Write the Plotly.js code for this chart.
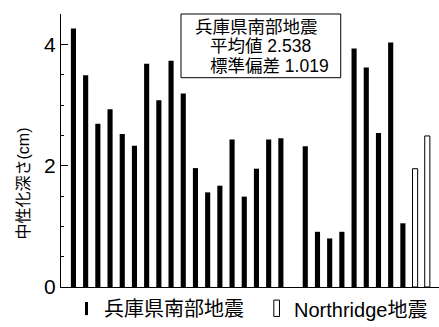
<!DOCTYPE html>
<html>
<head>
<meta charset="utf-8">
<script src="https://cdn.plot.ly/plotly-3.0.1.min.js"></script>
<style>html,body{margin:0;padding:0;background:#fff;}#chart{width:439px;height:327px;}</style>
</head>
<body>
<div id="chart"></div>
<script>
// Hyogo-ken Nanbu earthquake samples (two groups separated by a blank slot)
const hyogoCategories1 = ['H1','H2','H3','H4','H5','H6','H7','H8','H9','H10','H11','H12','H13','H14','H15','H16','H17','H18'];
const hyogoValues1 = [4.26, 3.49, 2.69, 2.93, 2.52, 2.33, 3.68, 3.08, 3.73, 3.19, 1.96, 1.56, 1.67, 2.43, 1.49, 1.95, 2.43, 2.45];
const gapCategory = ['gap'];
const hyogoCategories2 = ['H19','H20','H21','H22','H23','H24','H25','H26','H27'];
const hyogoValues2 = [2.32, 0.91, 0.80, 0.91, 3.93, 3.62, 2.54, 4.03, 1.05];
// Northridge earthquake samples
const northCategories = ['N1','N2'];
const northValues = [1.95, 2.49];
// Text
const hyogoName = '兵庫県南部地震';
const northName = 'Northridge地震';
const meanLabel = '平均値 2.538';
const sdLabel = '標準偏差 1.019';
const yTitle = '中性化深さ(cm)';
const yTickVals = [0, 2, 4];
const yTickText = ['0', '2', '4'];

const allCategories = [...hyogoCategories1, ...gapCategory, ...hyogoCategories2, ...northCategories];
const hyogoX = [...hyogoCategories1, ...gapCategory, ...hyogoCategories2];
const hyogoY = [...hyogoValues1, null, ...hyogoValues2];

const FONT = 'Liberation Sans, Arial, Noto Sans CJK JP, sans-serif';

const traces = [
  {type: 'bar', x: hyogoX, y: hyogoY, name: hyogoName, width: 0.42,
   marker: {color: '#000', line: {width: 0}}, hoverinfo: 'x+y'},
  {type: 'bar', x: northCategories, y: northValues, name: northName, width: 0.42,
   marker: {color: '#fff', line: {color: '#000', width: 1}}, hoverinfo: 'x+y'}
];

const layout = {
  width: 439, height: 327,
  margin: {l: 61, r: 0, t: 14, b: 40, pad: 0},
  paper_bgcolor: '#fff', plot_bgcolor: '#fff',
  showlegend: false,
  barmode: 'overlay',
  font: {family: FONT, color: '#000', size: 18},
  xaxis: {
    type: 'category', categoryorder: 'array', categoryarray: allCategories,
    range: [-1.02, 29.96], showticklabels: false, ticks: '',
    showline: true, linecolor: '#000', linewidth: 1, showgrid: false, zeroline: false
  },
  yaxis: {
    range: [0, 4.5], tickvals: yTickVals, ticktext: yTickText,
    ticks: 'inside', ticklen: 7, tickcolor: '#000', tickwidth: 1,
    minor: {dtick: 0.5, ticks: 'inside', ticklen: 3, tickcolor: '#000', tickwidth: 1, showgrid: false},
    showline: true, linecolor: '#000', linewidth: 1, showgrid: false, zeroline: false,
    tickfont: {family: FONT, size: 21, color: '#000'},
    title: {text: ''}
  },
  shapes: [
    {type: 'rect', xref: 'paper', yref: 'paper', x0: 0.3175, x1: 0.740, y0: 0.7667, y1: 1.0,
     line: {color: '#000', width: 1}, fillcolor: 'rgba(0,0,0,0)'},
    {type: 'rect', xref: 'paper', yref: 'paper', x0: 0.0635, x1: 0.0714, y0: -0.103, y1: -0.055,
     line: {width: 0}, fillcolor: '#000'},
    {type: 'rect', xref: 'paper', yref: 'paper', x0: 0.563, x1: 0.578, y0: -0.108, y1: -0.048,
     line: {color: '#000', width: 1}, fillcolor: '#fff'}
  ],
  annotations: [
    {xref: 'paper', yref: 'paper', x: 0.516, y: 0.9535, xanchor: 'center', yanchor: 'middle',
     text: hyogoName, showarrow: false, font: {family: FONT, size: 17.5, color: '#000'}},
    {xref: 'paper', yref: 'paper', x: 0.389, y: 0.882, xanchor: 'left', yanchor: 'middle',
     text: meanLabel, showarrow: false, font: {family: FONT, size: 17.5, color: '#000'}},
    {xref: 'paper', yref: 'paper', x: 0.389, y: 0.810, xanchor: 'left', yanchor: 'middle',
     text: sdLabel, showarrow: false, font: {family: FONT, size: 17.5, color: '#000'}},
    {xref: 'paper', yref: 'paper', x: -0.1, y: 0.38, xanchor: 'center', yanchor: 'middle',
     text: yTitle, textangle: -90, showarrow: false, font: {family: FONT, size: 16, color: '#000'}},
    {xref: 'paper', yref: 'paper', x: 0.1077, y: -0.0806, xanchor: 'left', yanchor: 'middle',
     text: hyogoName, showarrow: false, font: {family: FONT, size: 20, color: '#000'}},
    {xref: 'paper', yref: 'paper', x: 0.610, y: -0.084, xanchor: 'left', yanchor: 'middle',
     text: northName, showarrow: false, font: {family: FONT, size: 20, color: '#000'}}
  ]
};

Plotly.newPlot('chart', traces, layout, {staticPlot: true, displayModeBar: false});
</script>
</body>
</html>
